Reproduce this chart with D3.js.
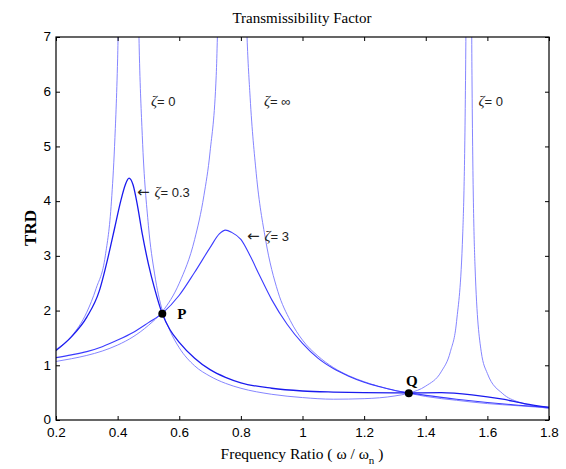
<!DOCTYPE html>
<html>
<head>
<meta charset="utf-8">
<script src="https://cdn.jsdelivr.net/npm/d3@7"></script>
<style>
  body { margin: 0; background: #fff; }
  .tick text { font-family: "Liberation Sans", Arial, sans-serif; font-size: 13.5px; fill: #000; }
  .tick line { stroke: #000; }
</style>
</head>
<body>
<div id="chart"></div>
<script>
var svgWidth = 566;
var svgHeight = 469;

var margin = { top: 37, right: 17, bottom: 49, left: 56 };
var width = svgWidth - margin.left - margin.right;
var height = svgHeight - margin.top - margin.bottom;

// zeta = 0 (undamped, two resonances)
var freqZeta0 = [0.20, 0.25, 0.30, 0.33, 0.36, 0.38, 0.39, 0.40, 0.41,
  0.465, 0.47, 0.48, 0.50, 0.52, 0.545, 0.57, 0.60, 0.65, 0.70, 0.75, 0.80, 0.90,
  1.00, 1.10, 1.20, 1.30, 1.345, 1.40, 1.45, 1.48, 1.50, 1.52, 1.53, 1.535,
  1.545, 1.55, 1.56, 1.58, 1.60, 1.65, 1.70, 1.75, 1.80];
var trZeta0 = [1.29, 1.53, 1.97, 2.40, 3.0, 4.0, 5.0, 6.6, 9.5,
  8.2, 6.8, 5.2, 3.55, 2.67, 2.0, 1.63, 1.32, 0.99, 0.80, 0.67, 0.58, 0.47,
  0.41, 0.38, 0.39, 0.44, 0.49, 0.62, 0.88, 1.25, 1.8, 3.4, 6.8, 13,
  12, 6.3, 2.8, 1.25, 0.85, 0.48, 0.33, 0.26, 0.21];

// zeta = infinity (locked)
var freqZetaInf = [0.20, 0.25, 0.30, 0.35, 0.40, 0.45, 0.50, 0.545, 0.60, 0.65, 0.68, 0.70, 0.72, 0.735,
  0.81, 0.82, 0.83, 0.85, 0.88, 0.92, 0.96, 1.00, 1.05, 1.10, 1.15, 1.20, 1.30, 1.345,
  1.40, 1.50, 1.60, 1.70, 1.80];
var trZetaInf = [1.07, 1.12, 1.18, 1.26, 1.37, 1.52, 1.73, 1.98, 2.5, 3.3, 4.1, 4.9, 6.3, 9.0,
  9.0, 7.0, 5.9, 4.5, 3.3, 2.35, 1.82, 1.46, 1.17, 0.96, 0.81, 0.70, 0.54, 0.49,
  0.43, 0.36, 0.30, 0.26, 0.22];

// zeta = 0.3
var freqZeta03 = [0.20, 0.25, 0.30, 0.34, 0.37, 0.39, 0.41, 0.425, 0.437, 0.45, 0.465, 0.48, 0.50,
  0.52, 0.545, 0.57, 0.60, 0.65, 0.70, 0.75, 0.80, 0.90, 1.00, 1.10, 1.20, 1.345,
  1.45, 1.55, 1.65, 1.72, 1.80];
var trZeta03 = [1.27, 1.52, 1.88, 2.35, 3.0, 3.5, 4.0, 4.3, 4.42, 4.3, 3.9, 3.4, 2.85,
  2.4, 1.94, 1.65, 1.42, 1.13, 0.92, 0.78, 0.68, 0.58, 0.53, 0.51, 0.50, 0.495,
  0.50, 0.46, 0.38, 0.30, 0.23];

// zeta = 3
var freqZeta3 = [0.20, 0.25, 0.30, 0.35, 0.40, 0.45, 0.50, 0.545, 0.60, 0.65, 0.70, 0.73, 0.75,
  0.77, 0.80, 0.83, 0.86, 0.90, 0.95, 1.00, 1.05, 1.10, 1.15, 1.20, 1.25, 1.30, 1.345,
  1.40, 1.50, 1.60, 1.70, 1.80];
var trZeta3 = [1.14, 1.19, 1.25, 1.34, 1.46, 1.60, 1.78, 1.95, 2.28, 2.70, 3.15, 3.40, 3.47,
  3.43, 3.30, 3.0, 2.65, 2.2, 1.75, 1.40, 1.13, 0.94, 0.80, 0.69, 0.61, 0.54, 0.495,
  0.45, 0.38, 0.32, 0.27, 0.23];

var xTicks = [0.2, 0.4, 0.6, 0.8, 1.0, 1.2, 1.4, 1.6, 1.8];
var yTicks = [0, 1, 2, 3, 4, 5, 6, 7];

var fixedNames = ["P", "Q"];
var fixedFreq = [0.545, 1.345];
var fixedTr = [1.94, 0.49];

var svg = d3.select("#chart")
  .append("svg")
  .attr("width", svgWidth)
  .attr("height", svgHeight);

var chartGroup = svg.append("g")
  .attr("transform", `translate(${margin.left}, ${margin.top})`);

var xScale = d3.scaleLinear().domain([0.2, 1.8]).range([0, width]);
var yScale = d3.scaleLinear().domain([0, 7]).range([height, 0]);

svg.append("defs").append("clipPath")
  .attr("id", "plotClip")
  .append("rect")
  .attr("width", width)
  .attr("height", height);

// curves
var series = [
  { f: freqZeta0, t: trZeta0, color: "#7777ff", w: 0.9 },
  { f: freqZetaInf, t: trZetaInf, color: "#7777ff", w: 0.9 },
  { f: freqZeta3, t: trZeta3, color: "#3b3bff", w: 1.1 },
  { f: freqZeta03, t: trZeta03, color: "#1a1aee", w: 1.3 }
];

var line = d3.line()
  .x(d => xScale(d[0]))
  .y(d => yScale(d[1]))
  .curve(d3.curveMonotoneX);

var curves = chartGroup.append("g").attr("clip-path", "url(#plotClip)");
series.forEach(function (s) {
  curves.append("path")
    .datum(d3.zip(s.f, s.t))
    .attr("fill", "none")
    .attr("stroke", s.color)
    .attr("stroke-width", s.w)
    .attr("d", line);
});

// axes, ticks pointing inward on all sides
chartGroup.append("g")
  .attr("transform", `translate(0, ${height})`)
  .call(d3.axisBottom(xScale).tickValues(xTicks).tickSize(-4).tickPadding(7).tickFormat(d3.format("~g")))
  .call(g => g.select(".domain").remove());

chartGroup.append("g")
  .call(d3.axisTop(xScale).tickValues(xTicks).tickSize(-4).tickFormat(""))
  .call(g => g.select(".domain").remove());

chartGroup.append("g")
  .call(d3.axisLeft(yScale).tickValues(yTicks).tickSize(-4).tickPadding(5).tickFormat(d3.format("d")))
  .call(g => g.select(".domain").remove())
  .call(g => g.selectAll(".tick text").attr("dy", "0.28em"));

chartGroup.append("g")
  .attr("transform", `translate(${width}, 0)`)
  .call(d3.axisRight(yScale).tickValues(yTicks).tickSize(-4).tickFormat(""))
  .call(g => g.select(".domain").remove());

chartGroup.append("rect")
  .attr("width", width)
  .attr("height", height)
  .attr("fill", "none")
  .attr("stroke", "#000")
  .attr("stroke-width", 1.2);

// fixed points P and Q
chartGroup.selectAll(".fixed")
  .data(fixedNames)
  .enter()
  .append("circle")
  .attr("cx", (d, i) => xScale(fixedFreq[i]))
  .attr("cy", (d, i) => yScale(fixedTr[i]))
  .attr("r", 4)
  .attr("fill", "#000");

chartGroup.append("text")
  .attr("x", xScale(fixedFreq[0]) + 15)
  .attr("y", yScale(fixedTr[0]) + 5)
  .attr("font-family", "Liberation Serif, serif")
  .attr("font-weight", "bold")
  .attr("font-size", "15px")
  .text(fixedNames[0]);

chartGroup.append("text")
  .attr("x", xScale(fixedFreq[1]) + 3)
  .attr("y", yScale(fixedTr[1]) - 7)
  .attr("text-anchor", "middle")
  .attr("font-family", "Liberation Serif, serif")
  .attr("font-weight", "bold")
  .attr("font-size", "15px")
  .text(fixedNames[1]);

// zeta labels
function zetaLabel(px, py, arrow, value) {
  var t = chartGroup.append("text")
    .attr("x", px)
    .attr("y", py)
    .attr("font-family", "Liberation Sans, Arial, sans-serif")
    .attr("font-size", "13px")
    .attr("fill", "#222");
  if (arrow) {
    t.append("tspan")
      .attr("font-family", "DejaVu Sans, sans-serif")
      .attr("font-size", "15px")
      .text("\u2190 ");
  }
  t.append("tspan")
    .attr("font-family", "Liberation Serif, serif")
    .attr("font-style", "italic")
    .attr("font-size", "15px")
    .text("ζ");
  t.append("tspan").text("= " + value);
}

zetaLabel(xScale(0.508), yScale(5.74), false, "0");
zetaLabel(xScale(0.875), yScale(5.74), false, "∞");
zetaLabel(xScale(1.571), yScale(5.74), false, "0");
zetaLabel(xScale(0.463), yScale(4.08), true, "0.3");
zetaLabel(xScale(0.82), yScale(3.27), true, "3");

// title and axis labels
svg.append("text")
  .attr("x", 302)
  .attr("y", 23)
  .attr("text-anchor", "middle")
  .attr("font-family", "Liberation Serif, serif")
  .attr("font-size", "15px")
  .text("Transmissibility Factor");

var xLabel = svg.append("text")
  .attr("x", 302)
  .attr("y", 459)
  .attr("text-anchor", "middle")
  .attr("font-family", "Liberation Serif, serif")
  .attr("font-size", "15.5px");
xLabel.append("tspan").text("Frequency Ratio ( ω / ω");
xLabel.append("tspan").attr("font-size", "11px").attr("dy", 5).text("n");
xLabel.append("tspan").attr("dy", -5).text(" )");

svg.append("text")
  .attr("transform", "translate(36, 228) rotate(-90)")
  .attr("text-anchor", "middle")
  .attr("font-family", "Liberation Serif, serif")
  .attr("font-weight", "bold")
  .attr("font-size", "17px")
  .text("TRD");
</script>
</body>
</html>
